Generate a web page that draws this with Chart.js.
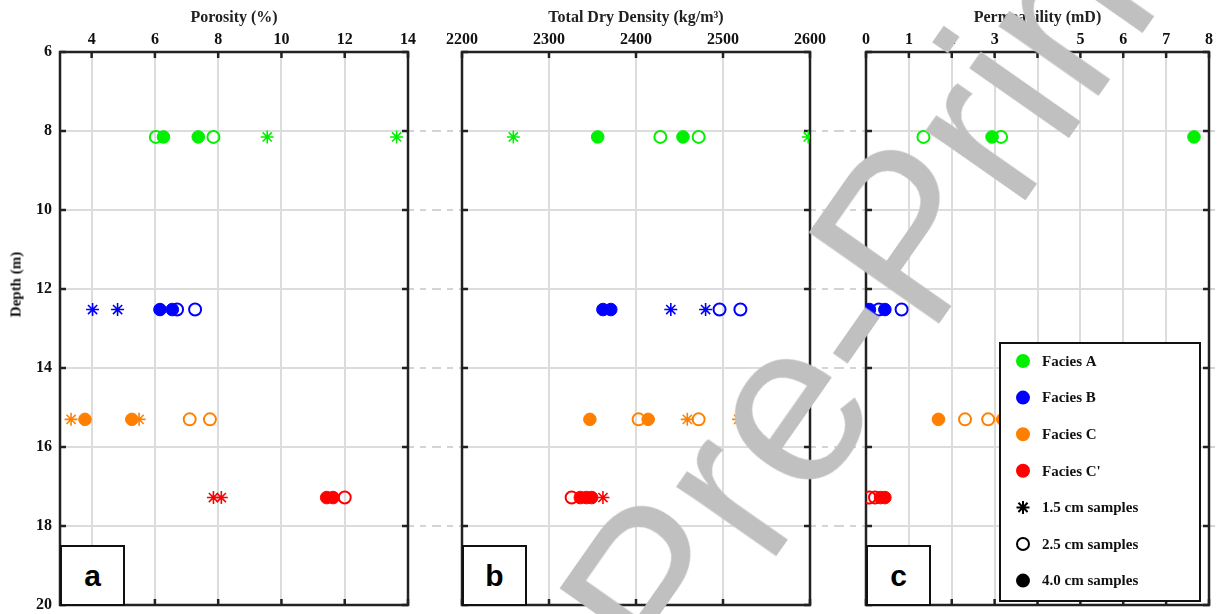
<!DOCTYPE html>
<html>
<head>
<meta charset="utf-8">
<script src="https://cdn.jsdelivr.net/npm/chart.js@4.4.0/dist/chart.umd.min.js"></script>
<style>
  body { margin: 0; background: #fff; }
  #wrap { position: relative; width: 1217px; height: 614px; overflow: hidden; }
  canvas { position: absolute; top: 0; }
  .tag { position: absolute; top: 545px; width: 65px; height: 61px; border: 2px solid #111; box-sizing: border-box;
         background: #fff; font: bold 30px "Liberation Sans", Arial, sans-serif; color: #000;
         display: flex; align-items: center; justify-content: center; }
  #ylab { position: absolute; left: -34px; top: 276px; width: 100px; text-align: center;
          transform: rotate(-90deg); font: bold 15px "Liberation Serif", serif; color: #111; }
  #wm { position: absolute; left: 0; top: 0; pointer-events: none; }
</style>
</head>
<body>
<div id="wrap">
  <canvas id="cA" width="435" height="614" style="left:0px"></canvas>
  <canvas id="cB" width="403" height="614" style="left:435px"></canvas>
  <canvas id="cC" width="379" height="614" style="left:838px"></canvas>
  <div id="ylab">Depth (m)</div>
  <div class="tag" style="left:60px">a</div>
  <div class="tag" style="left:462px">b</div>
  <div class="tag" style="left:866px">c</div>
  <svg id="wm" width="1217" height="614">
    <text x="679" y="695" transform="rotate(-55 679 695)" fill="#c0c0c0"
          font-family="Liberation Sans, Arial, sans-serif" font-size="230">Pre-Print</text>
  </svg>
</div>
<script>
// shared depth axis
const depthTicks = [6, 8, 10, 12, 14, 16, 18, 20];
const faciesNames = ['Facies A', 'Facies B', 'Facies C', "Facies C'"];
const faciesColors = ['#00f000', '#0000ff', '#ff8000', '#ff0000'];
const faciesDepth = [8.15, 12.52, 15.3, 17.28];
const sampleNames = ['1.5 cm samples', '2.5 cm samples', '4.0 cm samples'];

// porosity (%)
const porosityTicks = [4, 6, 8, 10, 12, 14];
const porosity15 = [[9.55, 13.64], [4.03, 4.82], [3.35, 5.5], [7.85, 8.1]];
const porosity25 = [[6.03, 7.85], [6.7, 7.27], [7.1, 7.74], [12.0]];
const porosity40 = [[6.27, 7.37], [6.16, 6.55], [3.79, 5.27], [11.43, 11.63]];

// total dry density (kg/m3)
const densityTicks = [2200, 2300, 2400, 2500, 2600];
const density15 = [[2259, 2598], [2440, 2480], [2459, 2518], [2362]];
const density25 = [[2428, 2472], [2496, 2520], [2403, 2472], [2326]];
const density40 = [[2356, 2454], [2362, 2371], [2347, 2414], [2336, 2343, 2349]];

// permeability (mD), no 1.5 cm samples
const permTicks = [0, 1, 2, 3, 4, 5, 6, 7, 8];
const perm15 = [[], [], [], []];
const perm25 = [[1.34, 3.15], [0.3, 0.83], [2.31, 2.85], [0.08, 0.21]];
const perm40 = [[2.94, 7.65], [0.08, 0.44], [1.69, 3.19], [0.34, 0.44]];

const serif = 'Liberation Serif';

function buildSets(s15, s25, s40) {
  const sets = [];
  faciesNames.forEach((name, i) => {
    const col = faciesColors[i];
    const d = faciesDepth[i];
    sets.push({ label: name + ' 1.5', data: s15[i].map(v => ({ x: v, y: d })),
      pointStyle: 'star', pointRadius: 6.5, pointBorderWidth: 1.6, borderColor: col, backgroundColor: col });
    sets.push({ label: name + ' 2.5', data: s25[i].map(v => ({ x: v, y: d })),
      pointStyle: 'circle', pointRadius: 6, pointBorderWidth: 2, borderColor: col, backgroundColor: 'rgba(0,0,0,0)' });
    sets.push({ label: name + ' 4.0', data: s40[i].map(v => ({ x: v, y: d })),
      pointStyle: 'circle', pointRadius: 6.3, pointBorderWidth: 1, borderColor: col, backgroundColor: col });
  });
  return sets;
}

// frame, inward ticks and dashed links between panels
const framePlugin = {
  id: 'frame',
  beforeDatasetsDraw(chart, args, opts) {
    const { ctx, chartArea: { left, right, top, bottom }, scales: { x, y } } = chart;
    ctx.save();
    ctx.strokeStyle = '#d4d4d4';
    ctx.lineWidth = 2;
    ctx.setLineDash([6, 6]);
    depthTicks.slice(1, -1).forEach(v => {
      const py = y.getPixelForValue(v);
      ctx.beginPath();
      if (opts.dashLeft) { ctx.moveTo(0, py); ctx.lineTo(left, py); }
      ctx.moveTo(right, py); ctx.lineTo(chart.width, py);
      ctx.stroke();
    });
    ctx.setLineDash([]);
    ctx.strokeStyle = '#222';
    ctx.lineWidth = 2.5;
    ctx.beginPath();
    x.ticks.forEach(t => {
      const px = x.getPixelForValue(t.value);
      ctx.moveTo(px, top); ctx.lineTo(px, top + 6);
      ctx.moveTo(px, bottom); ctx.lineTo(px, bottom - 6);
    });
    y.ticks.forEach(t => {
      const py = y.getPixelForValue(t.value);
      ctx.moveTo(left, py); ctx.lineTo(left + 6, py);
      ctx.moveTo(right, py); ctx.lineTo(right - 6, py);
    });
    ctx.stroke();
    ctx.strokeRect(left, top, right - left, bottom - top);
    ctx.restore();
  }
};

// boxed legend in panel c
const legendPlugin = {
  id: 'boxLegend',
  afterDraw(chart) {
    const { ctx, chartArea: { right, bottom } } = chart;
    const w = 200, h = 258;
    const bx = right - 9 - w, by = bottom - 4 - h;
    ctx.save();
    ctx.fillStyle = '#fff';
    ctx.fillRect(bx, by, w, h);
    ctx.strokeStyle = '#111';
    ctx.lineWidth = 2;
    ctx.strokeRect(bx, by, w, h);
    const items = faciesNames.map((n, i) => ({ text: n, style: 'circle', col: faciesColors[i], fill: true }))
      .concat([
        { text: sampleNames[0], style: 'star', col: '#000', fill: true },
        { text: sampleNames[1], style: 'circle', col: '#000', fill: false },
        { text: sampleNames[2], style: 'circle', col: '#000', fill: true }
      ]);
    ctx.font = 'bold 15px ' + serif;
    ctx.textBaseline = 'middle';
    items.forEach((it, i) => {
      const cy = by + 18 + i * 36.6;
      ctx.strokeStyle = it.col;
      ctx.fillStyle = it.fill ? it.col : 'rgba(0,0,0,0)';
      Chart.helpers.drawPoint(ctx, {
        pointStyle: it.style, radius: it.style === 'star' ? 6.5 : 6,
        borderWidth: it.style === 'star' ? 1.6 : (it.fill ? 1 : 2), rotation: 0
      }, bx + 23, cy);
      ctx.fillStyle = '#111';
      ctx.fillText(it.text, bx + 42, cy + 1);
    });
    ctx.restore();
  }
};

function makeChart(id, xTicks, xMin, xMax, title, datasets, cfg) {
  return new Chart(document.getElementById(id), {
    type: 'scatter',
    data: { datasets: datasets },
    options: {
      responsive: false,
      animation: false,
      layout: { padding: { left: 0, top: 0, right: cfg.padRight, bottom: 9 } },
      plugins: {
        legend: { display: false },
        tooltip: { enabled: false },
        frame: { dashLeft: cfg.dashLeft }
      },
      scales: {
        x: {
          type: 'linear', position: 'top', min: xMin, max: xMax,
          afterBuildTicks: s => { s.ticks = xTicks.map(v => ({ value: v })); },
          afterFit: s => { s.height = 52; s.paddingLeft = 0; s.paddingRight = 0; },
          grid: { color: '#dcdcdc', lineWidth: 2, drawTicks: false },
          border: { display: false },
          ticks: { color: '#111', padding: 3, maxRotation: 0, autoSkip: false,
                   callback: v => String(v),
                   font: { family: serif, size: 16, weight: 'bold' } },
          title: { display: true, text: title, color: '#222', padding: { top: 8, bottom: 0 },
                   font: { family: serif, size: 16, weight: 'bold' } }
        },
        y: {
          type: 'linear', reverse: true, min: 6, max: 20,
          afterBuildTicks: s => { s.ticks = depthTicks.map(v => ({ value: v })); },
          afterFit: s => { s.width = cfg.yWidth; s.paddingTop = 0; s.paddingBottom = 0; },
          grid: { color: '#dcdcdc', lineWidth: 2, drawTicks: false },
          border: { display: false },
          ticks: { display: cfg.yLabels, color: '#111', padding: 8,
                   callback: v => String(v),
                   font: { family: serif, size: 16, weight: 'bold' } }
        }
      }
    },
    plugins: cfg.legend ? [framePlugin, legendPlugin] : [framePlugin]
  });
}

makeChart('cA', porosityTicks, 3, 14, 'Porosity (%)',
  buildSets(porosity15, porosity25, porosity40),
  { yWidth: 60, yLabels: true, padRight: 27, dashLeft: false });
makeChart('cB', densityTicks, 2200, 2600, 'Total Dry Density (kg/m\u00B3)',
  buildSets(density15, density25, density40),
  { yWidth: 27, yLabels: false, padRight: 28, dashLeft: true });
makeChart('cC', permTicks, 0, 8, 'Permeability (mD)',
  buildSets(perm15, perm25, perm40),
  { yWidth: 28, yLabels: false, padRight: 5, dashLeft: true, legend: true });
</script>
</body>
</html>
